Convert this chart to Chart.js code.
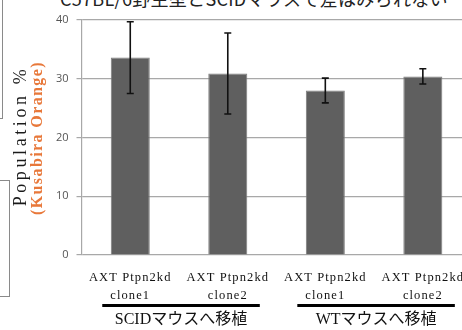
<!DOCTYPE html>
<html lang="ja">
<head>
<meta charset="UTF-8">
<title>Population chart</title>
<script src="https://cdn.jsdelivr.net/npm/chart.js"></script>
<style>
  body { margin: 0; overflow: hidden; background: #fff; width: 462px; height: 330px; position: relative; }
  #wrap { position: absolute; left: 0; top: 0; width: 480px; height: 330px; }
  .top-title { position: absolute; left: 60px; top: -15px; font: 18px "Noto Sans CJK JP"; color: #222; white-space: nowrap; letter-spacing: 0.3px; }
  .ytitle { position: absolute; white-space: nowrap; transform-origin: center center; transform: translate(-50%, -50%) rotate(-90deg); font-family: "Liberation Serif", serif; }
  .box { position: absolute; border-color: #8a8a8a; border-style: solid; }
</style>
</head>
<body>
<div class="top-title">C57BL/6野生型とSCIDマウスで差はみられない</div>
<div class="box" style="left:-10px; top:-2px; width:12px; height:120px; border-width:0 1px 1px 0;"></div>
<div class="box" style="left:-10px; top:180px; width:19px; height:115px; border-width:1px 1px 1px 0;"></div>

<div id="wrap"><canvas id="chart" width="480" height="330"></canvas></div>

<div class="ytitle" style="left:20px; top:136px; font-size:18px; letter-spacing:3.6px; color:#1a1a1a;">Population %</div>
<div class="ytitle" style="left:37px; top:138px; font-size:16px; letter-spacing:1.4px; color:#e8783a; font-weight:bold;">(Kusabira Orange)</div>

<script>
  // data
  const categories = [['AXT Ptpn2kd', 'clone1'], ['AXT Ptpn2kd', 'clone2'], ['AXT Ptpn2kd', 'clone1'], ['AXT Ptpn2kd', 'clone2']];
  const means = [33.6, 30.9, 28.0, 30.4];
  const errors = [6.1, 6.9, 2.1, 1.3];
  const groups = ['SCIDマウスへ移植', 'WTマウスへ移植'];
  const groupMembers = [[0, 1], [2, 3]];
  const yTicks = [0, 10, 20, 30, 40];

  // error bars on top of the bars
  const errorBars = {
    id: 'errorBars',
    afterDatasetsDraw(chart) {
      const ctx = chart.ctx;
      const x = chart.scales.x, y = chart.scales.y;
      ctx.save();
      ctx.strokeStyle = '#111';
      ctx.lineWidth = 1.6;
      for (var i = 0; i < means.length; i++) {
        var px = x.getPixelForValue(i);
        var top = y.getPixelForValue(means[i] + errors[i]);
        var bot = y.getPixelForValue(means[i] - errors[i]);
        ctx.beginPath();
        ctx.moveTo(px, top); ctx.lineTo(px, bot);
        ctx.moveTo(px - 3.5, top); ctx.lineTo(px + 3.5, top);
        ctx.moveTo(px - 3.5, bot); ctx.lineTo(px + 3.5, bot);
        ctx.stroke();
      }
      ctx.restore();
    }
  };

  // x category labels (serif, spaced out) + group underline and label
  const groupLabels = {
    id: 'groupLabels',
    afterDraw(chart) {
      const ctx = chart.ctx;
      const x = chart.scales.x;
      ctx.save();
      ctx.textAlign = 'center';
      ctx.textBaseline = 'middle';
      ctx.fillStyle = '#111';
      ctx.font = '12.5px "Liberation Serif"';
      ctx.letterSpacing = '1.1px';
      for (var i = 0; i < categories.length; i++) {
        var cx = x.getPixelForValue(i);
        ctx.fillText(categories[i][0], cx, 277.5);
        ctx.fillText(categories[i][1], cx, 296);
      }
      ctx.letterSpacing = '0px';
      for (var g = 0; g < groups.length; g++) {
        var a = x.getPixelForValue(groupMembers[g][0]);
        var b = x.getPixelForValue(groupMembers[g][1]);
        ctx.fillStyle = '#000';
        ctx.fillRect(a - 28, 304, (b - a) + 60, 3);
        ctx.font = '16px "Liberation Serif", "Noto Sans CJK JP"';
        ctx.fillStyle = '#111';
        ctx.fillText(groups[g], (a + b) / 2 + 2, 320);
      }
      ctx.restore();
    }
  };

  new Chart(document.getElementById('chart'), {
    type: 'bar',
    data: {
      labels: categories,
      datasets: [{
        data: means,
        backgroundColor: '#5f5f5f',
        borderColor: '#7c7c7c',
        borderWidth: 1,
        barPercentage: 0.4,
        categoryPercentage: 1.0
      }]
    },
    options: {
      responsive: false,
      animation: false,
      layout: { padding: { top: 20, right: 8.4, left: 0, bottom: 0 } },
      plugins: { legend: { display: false }, tooltip: { enabled: false } },
      scales: {
        x: {
          grid: { display: false },
          border: { display: false },
          ticks: { display: false },
          afterFit(s) { s.height = 75; }
        },
        y: {
          min: 0,
          max: 40,
          afterBuildTicks(s) { s.ticks = yTicks.map(v => ({ value: v })); },
          grid: { color: '#a8a8a8', lineWidth: 1.2, tickLength: 5 },
          border: { color: '#a8a8a8', width: 1.2 },
          ticks: {
            color: '#555',
            padding: 8,
            font: { family: 'Open Sans', size: 11 }
          },
          afterFit(s) { s.width = 81.5; }
        }
      }
    },
    plugins: [errorBars, groupLabels]
  });
</script>
</body>
</html>
